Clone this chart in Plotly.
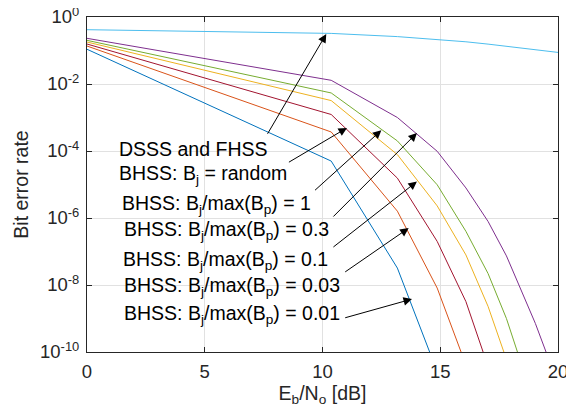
import plotly.graph_objects as go

# ---------------- data ----------------
EBNO_DB = [0, 10.37, 13.18, 14.87, 16.09, 17.03, 17.81, 18.47, 19.04, 19.55, 20]

BER_DSSS_FHSS = [0.418, 0.324, 0.260, 0.214, 0.182, 0.155, 0.135, 0.117, 0.105, 0.0955, 0.0877]
BER_RANDOM = [0.231, 0.0129, 1.0e-3, 9.8e-5, 7.9e-6, 7.9e-7, 7.4e-8, 6.3e-9, 7.1e-10, 7.8e-11]
BER_R1 = [0.201, 5.4e-3, 2.0e-4, 9.8e-6, 4.0e-7, 2.2e-8, 1.0e-9, 3.9e-11]
BER_R03 = [0.179, 3.2e-3, 7.8e-5, 2.3e-6, 7.9e-8, 2.3e-9, 6.0e-11]
BER_R01 = [0.156, 1.23e-3, 1.55e-5, 2.0e-7, 3.2e-9, 3.7e-11]
BER_R003 = [0.136, 3.7e-4, 1.6e-6, 8.1e-9, 4.1e-11]
BER_R001 = [0.109, 5.0e-5, 3.2e-8, 2.6e-11]

SERIES_NAMES = ["DSSS and FHSS", "BHSS: Bj = random", "BHSS: Bj/max(Bp) = 1",
                "BHSS: Bj/max(Bp) = 0.3", "BHSS: Bj/max(Bp) = 0.1",
                "BHSS: Bj/max(Bp) = 0.03", "BHSS: Bj/max(Bp) = 0.01"]
SERIES_VALUES = [BER_DSSS_FHSS, BER_RANDOM, BER_R1, BER_R03, BER_R01, BER_R003, BER_R001]
SERIES_COLORS = ["#4DBEEE", "#7E2F8E", "#77AC30", "#EDB120", "#A2142F", "#D95319", "#0072BD"]

X_TICKS = [0, 5, 10, 15, 20]
Y_TICK_VALUES = [1, 1e-2, 1e-4, 1e-6, 1e-8, 1e-10]
Y_TICK_TEXT = ["10<sup>0</sup>", "10<sup>-2</sup>", "10<sup>-4</sup>", "10<sup>-6</sup>",
               "10<sup>-8</sup>", "10<sup>-10</sup>"]

# text labels: (text, left x in dB, centre log10(BER))
LABEL_TEXT = ["DSSS and FHSS",
              "BHSS: B<sub>j</sub> = random",
              "BHSS: B<sub>j</sub>/max(B<sub>p</sub>) = 1",
              "BHSS: B<sub>j</sub>/max(B<sub>p</sub>) = 0.3",
              "BHSS: B<sub>j</sub>/max(B<sub>p</sub>) = 0.1",
              "BHSS: B<sub>j</sub>/max(B<sub>p</sub>) = 0.03",
              "BHSS: B<sub>j</sub>/max(B<sub>p</sub>) = 0.01"]
LABEL_X = [1.28, 1.28, 1.40, 1.47, 1.45, 1.50, 1.50]
LABEL_LOGY = [-3.94, -4.71, -5.60, -6.36, -7.27, -8.04, -8.87]

# arrows: tail (x, log10 y) -> head (x, log10 y)
ARROW_TAIL_X = [7.63, 8.51, 9.62, 10.40, 10.40, 10.90, 10.90]
ARROW_TAIL_LOGY = [-3.53, -4.36, -5.21, -6.00, -6.90, -7.64, -8.99]
ARROW_HEAD_X = [10.16, 11.04, 12.50, 14.01, 14.01, 13.66, 13.80]
ARROW_HEAD_LOGY = [-0.507, -3.31, -3.38, -3.46, -4.91, -6.30, -8.42]

FONT = "Liberation Sans, Arial, Helvetica, sans-serif"
AX_COLOR = "#262626"
GRID = "#e1e1e1"

fig = go.Figure()
for name, vals, col in zip(SERIES_NAMES, SERIES_VALUES, SERIES_COLORS):
    fig.add_trace(go.Scatter(x=EBNO_DB[:len(vals)], y=vals, mode="lines", name=name,
                             line=dict(color=col, width=1), showlegend=False))

annotations = []
for tx, ty, hx, hy in zip(ARROW_TAIL_X, ARROW_TAIL_LOGY, ARROW_HEAD_X, ARROW_HEAD_LOGY):
    annotations.append(dict(x=hx, y=hy, xref="x", yref="y", ax=tx, ay=ty, axref="x", ayref="y",
                            text="", showarrow=True, arrowhead=2, arrowsize=1.7,
                            arrowwidth=1, arrowcolor="black", standoff=0, startstandoff=0))
for t, lx, ly in zip(LABEL_TEXT, LABEL_X, LABEL_LOGY):
    annotations.append(dict(x=lx, y=ly, xref="x", yref="y", text=t, showarrow=False,
                            xanchor="left", yanchor="middle",
                            font=dict(family=FONT, size=19.5, color="black")))

# the page body adds an 8 px offset, so the figure is 8 px smaller than the window
fig.update_layout(
    width=566, height=403,
    margin=dict(l=79, r=16, t=9, b=59),
    paper_bgcolor="white", plot_bgcolor="white",
    font=dict(family=FONT, size=18.5, color=AX_COLOR),
    annotations=annotations,
    xaxis=dict(range=[0, 20], tickvals=X_TICKS, showgrid=True, gridcolor=GRID, gridwidth=1,
               showline=True, linecolor=AX_COLOR, linewidth=1, mirror="ticks",
               ticks="inside", ticklen=5, tickcolor=AX_COLOR, zeroline=False, automargin=False,
               ticklabelstandoff=3, ticklabeloverflow="allow",
               tickfont=dict(family=FONT, size=18.5, color=AX_COLOR),
               title=dict(text="E<sub>b</sub>/N<sub>o</sub> [dB]", standoff=0,
                          font=dict(family=FONT, size=19.5, color=AX_COLOR))),
    yaxis=dict(type="log", range=[-10, 0], tickvals=Y_TICK_VALUES, ticktext=Y_TICK_TEXT,
               showgrid=True, gridcolor=GRID, gridwidth=1,
               showline=True, linecolor=AX_COLOR, linewidth=1, mirror="ticks",
               ticks="inside", ticklen=5, tickcolor=AX_COLOR, zeroline=False, automargin=False,
               ticklabelstandoff=3, ticklabeloverflow="allow",
               tickfont=dict(family=FONT, size=18.5, color=AX_COLOR),
               title=dict(text="Bit error rate", standoff=6,
                          font=dict(family=FONT, size=19.5, color=AX_COLOR))),
)

fig.write_html("out.html")
